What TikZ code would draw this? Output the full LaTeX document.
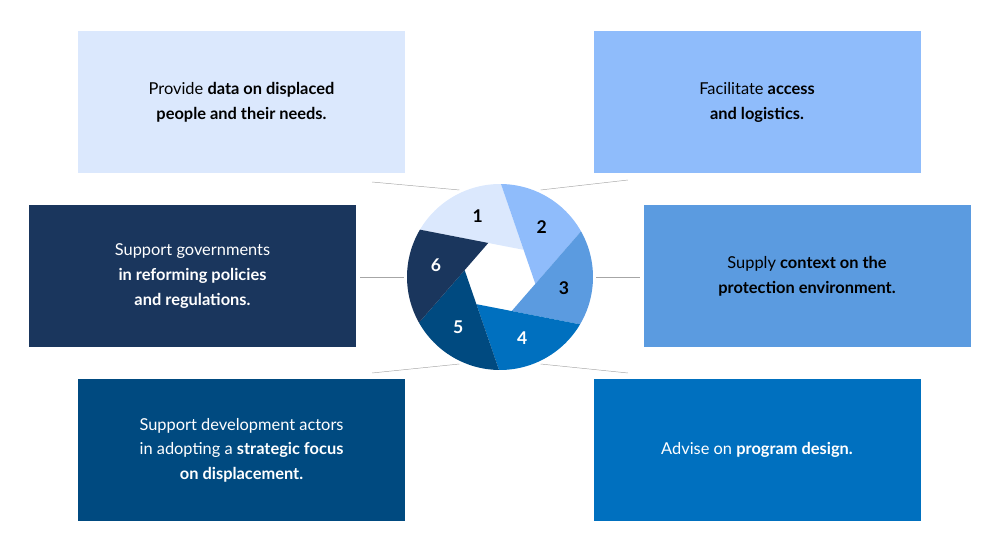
\documentclass[tikz,border=0pt]{standalone}
\usepackage{fontspec}
\setmainfont{Lato}
\usetikzlibrary{positioning}
\definecolor{blueA}{HTML}{DBE8FD}
\definecolor{blueB}{HTML}{8FBCFB}
\definecolor{blueC}{HTML}{5B9BE0}
\definecolor{blueD}{HTML}{0070BF}
\definecolor{blueE}{HTML}{004A80}
\definecolor{blueF}{HTML}{1A365D}
\begin{document}
\begin{tikzpicture}
[x=0.03cm,y=0.03cm,
  boxDecorate/.style={minimum width=327*0.03cm,minimum height=142*0.03cm,
    inner sep=0pt,align=center,font=\fontsize{14}{21}\selectfont},%
  lineDecorate/.style={-,gray!70,thin},%
  numDecorate/.style={font=\fontsize{15}{15}\selectfont\bfseries}]
\useasboundingbox (0,0) rectangle (1000,552);
%% boxes
\node (b1) at (241.5,449.5) [boxDecorate,fill=blueA] {Provide \textbf{data on displaced}\\\textbf{people and their needs.}};
\node (b2) at (757,449.5) [boxDecorate,fill=blueB] {Facilitate \textbf{access}\\\textbf{and logistics.}};
\node (b3) at (807,276) [boxDecorate,fill=blueC] {Supply \textbf{context on the}\\\textbf{protection environment.}};
\node (b4) at (757,102) [boxDecorate,fill=blueD,text=white] {Advise on \textbf{program design.}};
\node (b5) at (241.5,102) [boxDecorate,fill=blueE,text=white] {Support development actors\\in adopting a \textbf{strategic focus}\\\textbf{on displacement.}};
\node (b6) at (192.5,276) [boxDecorate,fill=blueF,text=white] {Support governments\\\textbf{in reforming policies}\\\textbf{and regulations.}};
%% wheel
\begin{scope}[shift={(500,275)}]
\foreach \a/\col/\num/\tcol in {
  49/blueA/1/black, -11/blueB/2/black, -71/blueC/3/black,
  -131/blueD/4/white, 169/blueE/5/white, 109/blueF/6/white}
{
  \fill[\col] (\a:36) -- (\a+40.4:93) arc[start angle=\a+40.4,end angle=\a+100.4,radius=93] -- (\a+60:36) -- cycle;
  \node (n\num) at (\a+61:65) [numDecorate,text=\tcol] {\num};
}
\coordinate (c1) at (115:96);
\coordinate (c2) at (65:96);
\coordinate (c3) at (0:96);
\coordinate (c4) at (-65:96);
\coordinate (c5) at (-115:96);
\coordinate (c6) at (180:96);
\end{scope}
%% connectors
\coordinate (e1) at (372,370);
\coordinate (e2) at (628,372);
\coordinate (e3) at (640,275);
\coordinate (e4) at (628,179);
\coordinate (e5) at (372,179);
\coordinate (e6) at (360,275);
\foreach \i in {1,...,6}
  \draw[lineDecorate] (c\i) -- (e\i);
\end{tikzpicture}
\end{document}
